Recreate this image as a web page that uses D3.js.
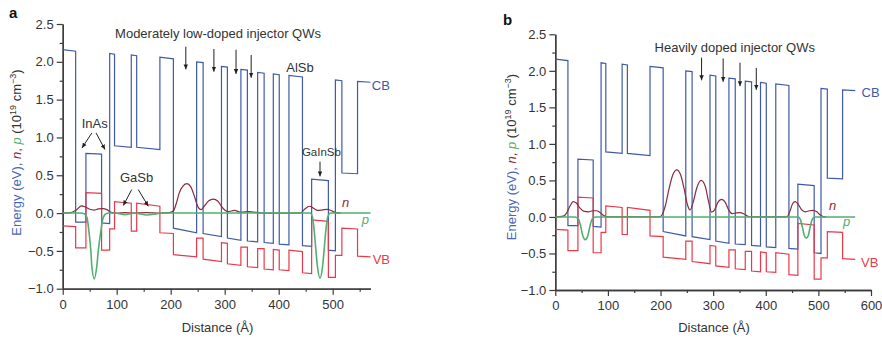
<!DOCTYPE html>
<html>
<head>
<meta charset="utf-8">
<script src="https://cdn.jsdelivr.net/npm/d3@7"></script>
<style>body{margin:0;background:#fff}</style>
</head>
<body>
<svg id="chart" width="882" height="340"></svg>
<script>
// ─── Band-edge profile (same layer stack in both panels) ─────────────────────
// layer boundaries in Å: AlSb / InAs / GaInSb / InAs / AlSb / GaSb / ... / AlSb
const layerEdges = [0, 24, 43, 72, 87, 96, 127, 137, 180, 205, 248, 260, 294, 305, 330,
  342, 361, 373, 390, 401, 419, 444, 461, 492, 505, 517, 546, 570];
// conduction band, eV at left / right edge of each layer
const cbLeft  = [2.16, -0.12, 0.79, -0.13, 2.11, 0.89, 2.09, 0.87, 2.06, -0.20, 2.00, -0.27, 1.94, -0.33,
  1.90, -0.37, 1.86, -0.39, 1.84, -0.41, 1.82, -0.43, 0.45, -0.49, 1.76, 0.53, 1.74];
const cbRight = [2.14, -0.12, 0.78, -0.14, 2.10, 0.87, 2.08, 0.84, 2.04, -0.26, 1.99, -0.31, 1.93, -0.36,
  1.89, -0.38, 1.85, -0.40, 1.83, -0.42, 1.80, -0.44, 0.43, -0.50, 1.75, 0.52, 1.73];
// valence band, eV at left / right edge of each layer
const vbLeft  = [-0.17, -0.46, 0.27, -0.49, -0.21, 0.15, -0.24, 0.13, -0.26, -0.55, -0.33, -0.61, -0.39, -0.67,
  -0.45, -0.71, -0.47, -0.74, -0.48, -0.75, -0.49, -0.79, -0.09, -0.85, -0.56, -0.20, -0.57];
const vbRight = [-0.18, -0.46, 0.26, -0.49, -0.21, 0.13, -0.24, 0.09, -0.27, -0.58, -0.33, -0.64, -0.40, -0.69,
  -0.45, -0.72, -0.47, -0.75, -0.49, -0.76, -0.51, -0.80, -0.11, -0.85, -0.56, -0.21, -0.58];

// ─── Carrier densities (10^19 cm^-3), [distance Å, value] ────────────────────
const nModerate = [[0, 0], [15, 0.005], [25, 0.04], [35, 0.095], [42, 0.08], [50, 0.05], [58, 0.04],
  [66, 0.055], [75, 0.06], [82, 0.045], [90, 0.01], [100, 0], [115, 0.005], [130, 0], [155, 0.005],
  [180, 0], [197, 0.005], [205, 0.03], [210, 0.12], [216, 0.27], [223, 0.36], [230, 0.39], [237, 0.35],
  [244, 0.22], [250, 0.09], [256, 0.045], [262, 0.09], [270, 0.16], [279, 0.185], [287, 0.16],
  [294, 0.09], [300, 0.04], [306, 0.02], [318, 0.035], [330, 0.01], [345, 0.02], [358, 0.01], [370, 0],
  [440, 0], [448, 0.05], [457, 0.09], [465, 0.06], [472, 0.035], [480, 0.04], [490, 0.05], [498, 0.03],
  [506, 0.005], [515, 0]];
const pModerate = [[0, 0], [32, 0], [40, -0.01], [45, -0.06], [49, -0.27], [52, -0.49], [54, -0.71],
  [58.5, -0.87], [63, -0.71], [66, -0.49], [70, -0.27], [75, -0.06], [80, -0.01], [86, 0], [96, 0],
  [106, -0.01], [115, -0.02], [125, -0.01], [132, 0], [142, -0.01], [155, -0.025], [170, -0.015],
  [182, 0], [458, 0], [462, -0.04], [466, -0.25], [469, -0.5], [472, -0.72], [476.5, -0.86], [481, -0.72],
  [484, -0.5], [487, -0.25], [491, -0.05], [496, 0], [570, 0]];
const nHeavy = [[0, 0], [15, 0.01], [22, 0.06], [28, 0.15], [34, 0.21], [40, 0.19], [47, 0.12], [55, 0.075],
  [63, 0.07], [72, 0.085], [78, 0.085], [85, 0.06], [92, 0.02], [100, 0], [198, 0], [203, 0.03],
  [209, 0.15], [216, 0.38], [223, 0.57], [231, 0.645], [238, 0.58], [245, 0.38], [251, 0.17], [256, 0.095],
  [262, 0.2], [269, 0.4], [277, 0.5], [285, 0.42], [291, 0.22], [297, 0.065], [303, 0.1], [309, 0.2],
  [316, 0.24], [323, 0.2], [330, 0.09], [336, 0.045], [344, 0.055], [351, 0.06], [359, 0.04], [366, 0.01],
  [375, 0], [440, 0], [446, 0.08], [451, 0.18], [456, 0.21], [462, 0.17], [468, 0.1], [475, 0.07],
  [483, 0.085], [490, 0.09], [497, 0.07], [503, 0.03], [509, 0.005], [515, 0]];
const pHeavy = [[0, 0], [38, 0], [44, -0.03], [48, -0.12], [52, -0.25], [57, -0.31], [62, -0.25], [66, -0.12],
  [70, -0.03], [76, 0], [462, 0], [466, -0.04], [470, -0.15], [473, -0.25], [477, -0.29], [481, -0.25],
  [484, -0.15], [488, -0.04], [493, 0], [570, 0]];

// ─── Ticks ───────────────────────────────────────────────────────────────────
const yMajor = [-1, -0.5, 0, 0.5, 1, 1.5, 2, 2.5];
const yMinor = [-0.75, -0.25, 0.25, 0.75, 1.25, 1.75, 2.25];
const xMajorA = [0, 100, 200, 300, 400, 500];
const xMajorB = [0, 100, 200, 300, 400, 500, 600];
const xMinor = [50, 150, 250, 350, 450, 550];

const C = {
  cb: '#3f5aa8', ylab: '#4a66b2', vb: '#e8394a', n: '#8c2b3b', p: '#4fb06f',
  axis: '#3a3a3a', text: '#333', font: '"Liberation Sans", Arial, Helvetica, sans-serif',
};

const panels = [
  {
    tag: 'a', tagXY: [9, 18], xDomain: [0, 570], xRange: [62.7, 370.5], yRange: [288.7, 24],
    xMajor: xMajorA, n: nModerate, p: pModerate, ylab: [21, 152.5], xlab: [217.5, 331.5],
    arrows: [[228, 2.2, 1.9], [280, 2.17, 1.87], [321, 2.16, 1.84], [349, 2.09, 1.79],
      [54, 1.06, 0.86, 35.7], [61.7, 1.06, 0.84, 78.3], [127.8, 0.31, 0.10, 112.2], [140, 0.31, 0.09, 158.5],
      [476.5, 0.68, 0.485]],
    texts: [
      { t: 'Moderately low-doped injector QWs', x: 97, y: 2.31 },
      { t: 'AlSb', x: 414, y: 1.87 },
      { t: 'InAs', x: 35.2, y: 1.13 },
      { t: 'GaSb', x: 106, y: 0.405 },
      { t: 'GaInSb', x: 443, y: 0.75, size: 11.5 },
      { t: 'CB', x: 572.5, y: 1.63, fill: C.cb },
      { t: 'n', x: 517, y: 0.08, fill: C.n, italic: true },
      { t: 'p', x: 554, y: -0.14, fill: C.p, italic: true },
      { t: 'VB', x: 574, y: -0.68, fill: C.vb },
    ],
  },
  {
    tag: 'b', tagXY: [503, 25], xDomain: [0, 600], xRange: [555.3, 871], yRange: [290, 34.3],
    xMajor: xMajorB, n: nHeavy, p: pHeavy, ylab: [516, 157], xlab: [714, 331.5],
    arrows: [[278, 2.18, 1.87], [319, 2.17, 1.85], [351, 2.11, 1.79], [382, 2.04, 1.74]],
    texts: [
      { t: 'Heavily doped injector QWs', x: 188.6, y: 2.26 },
      { t: 'CB', x: 582, y: 1.645, fill: C.cb },
      { t: 'n', x: 520, y: 0.095, fill: C.n, italic: true },
      { t: 'p', x: 547, y: -0.125, fill: C.p, italic: true },
      { t: 'VB', x: 581, y: -0.68, fill: C.vb },
    ],
  },
];

const svg = d3.select('#chart');
svg.append('defs').append('marker').attr('id', 'arrow')
  .attr('viewBox', '0 0 10 10').attr('refX', 10).attr('refY', 5)
  .attr('markerWidth', 5).attr('markerHeight', 5).attr('markerUnits', 'userSpaceOnUse')
  .attr('orient', 'auto')
  .append('path').attr('d', 'M0,0.5 L10,5 L0,9.5 Z').attr('fill', '#222');

// step profile from layer table
function bandPoints(left, right) {
  const pts = [];
  left.forEach((v, i) => {
    pts.push([layerEdges[i], v]);
    pts.push([layerEdges[i + 1], right[i]]);
  });
  return pts;
}

panels.forEach((cfg) => {
  const x = d3.scaleLinear().domain(cfg.xDomain).range(cfg.xRange);
  const y = d3.scaleLinear().domain([-1, 2.5]).range(cfg.yRange);
  const g = svg.append('g').attr('font-family', C.font);

  // axes
  const styleAxis = (sel) => {
    sel.select('.domain').attr('stroke', C.axis).attr('stroke-width', 1.3);
    sel.selectAll('.tick line').attr('stroke', C.axis).attr('stroke-width', 1.2);
    sel.selectAll('.tick text').attr('fill', C.text).attr('font-size', 13).attr('font-family', C.font);
  };
  g.append('g').attr('transform', `translate(${cfg.xRange[0]},0)`)
    .call(d3.axisLeft(y).tickValues(yMajor).tickFormat(d3.format('.1f')).tickSize(6).tickSizeOuter(0).tickPadding(3))
    .call(styleAxis);
  g.append('g').attr('transform', `translate(${cfg.xRange[0]},0)`)
    .call(d3.axisLeft(y).tickValues(yMinor).tickFormat('').tickSize(3).tickSizeOuter(0))
    .call(styleAxis);
  g.append('g').attr('transform', `translate(0,${cfg.yRange[0]})`)
    .call(d3.axisBottom(x).tickValues(cfg.xMajor).tickFormat(d3.format('d')).tickSize(6).tickSizeOuter(0).tickPadding(5))
    .call(styleAxis);
  g.append('g').attr('transform', `translate(0,${cfg.yRange[0]})`)
    .call(d3.axisBottom(x).tickValues(xMinor).tickFormat('').tickSize(3).tickSizeOuter(0))
    .call(styleAxis);

  // bands and carriers
  const step = d3.line().x((d) => x(d[0])).y((d) => y(d[1]));
  const smooth = d3.line().x((d) => x(d[0])).y((d) => y(d[1])).curve(d3.curveMonotoneX);
  g.append('path').attr('d', step(bandPoints(cbLeft, cbRight)))
    .attr('fill', 'none').attr('stroke', C.cb).attr('stroke-width', 1.2);
  g.append('path').attr('d', step(bandPoints(vbLeft, vbRight)))
    .attr('fill', 'none').attr('stroke', C.vb).attr('stroke-width', 1.2);
  g.append('path').attr('d', smooth(cfg.n))
    .attr('fill', 'none').attr('stroke', C.n).attr('stroke-width', 1.2);
  g.append('path').attr('d', smooth(cfg.p))
    .attr('fill', 'none').attr('stroke', C.p).attr('stroke-width', 1.6);

  // annotation arrows: [x, yStart, yEnd, xEnd?]
  cfg.arrows.forEach((a) => {
    g.append('line')
      .attr('x1', x(a[0])).attr('y1', y(a[1]))
      .attr('x2', x(a.length > 3 ? a[3] : a[0])).attr('y2', y(a[2]))
      .attr('stroke', '#222').attr('stroke-width', 1).attr('marker-end', 'url(#arrow)');
  });

  // annotation texts
  cfg.texts.forEach((d) => {
    g.append('text').attr('x', x(d.x)).attr('y', y(d.y))
      .attr('font-size', d.size || 13).attr('fill', d.fill || C.text)
      .attr('font-style', d.italic ? 'italic' : null)
      .text(d.t);
  });

  // panel tag
  g.append('text').attr('x', cfg.tagXY[0]).attr('y', cfg.tagXY[1])
    .attr('font-size', 15).attr('font-weight', 700).attr('fill', '#111').text(cfg.tag);

  // x label
  g.append('text').attr('x', cfg.xlab[0]).attr('y', cfg.xlab[1])
    .attr('text-anchor', 'middle').attr('font-size', 13).attr('fill', C.text).text('Distance (Å)');

  // y label with coloured parts
  const yl = g.append('text')
    .attr('transform', `translate(${cfg.ylab[0]},${cfg.ylab[1]}) rotate(-90)`)
    .attr('text-anchor', 'middle').attr('font-size', 13).attr('fill', C.text);
  yl.append('tspan').attr('fill', C.ylab).text('Energy (eV), ');
  yl.append('tspan').attr('fill', C.n).attr('font-style', 'italic').text('n');
  yl.append('tspan').attr('fill', C.n).text(', ');
  yl.append('tspan').attr('fill', C.p).attr('font-style', 'italic').text('p');
  yl.append('tspan').text(' (10');
  yl.append('tspan').attr('font-size', 9).attr('dy', -5).text('19');
  yl.append('tspan').attr('dy', 5).text(' cm');
  yl.append('tspan').attr('font-size', 9).attr('dy', -5).text('−3');
  yl.append('tspan').attr('dy', 5).text(')');
});
</script>
</body>
</html>
